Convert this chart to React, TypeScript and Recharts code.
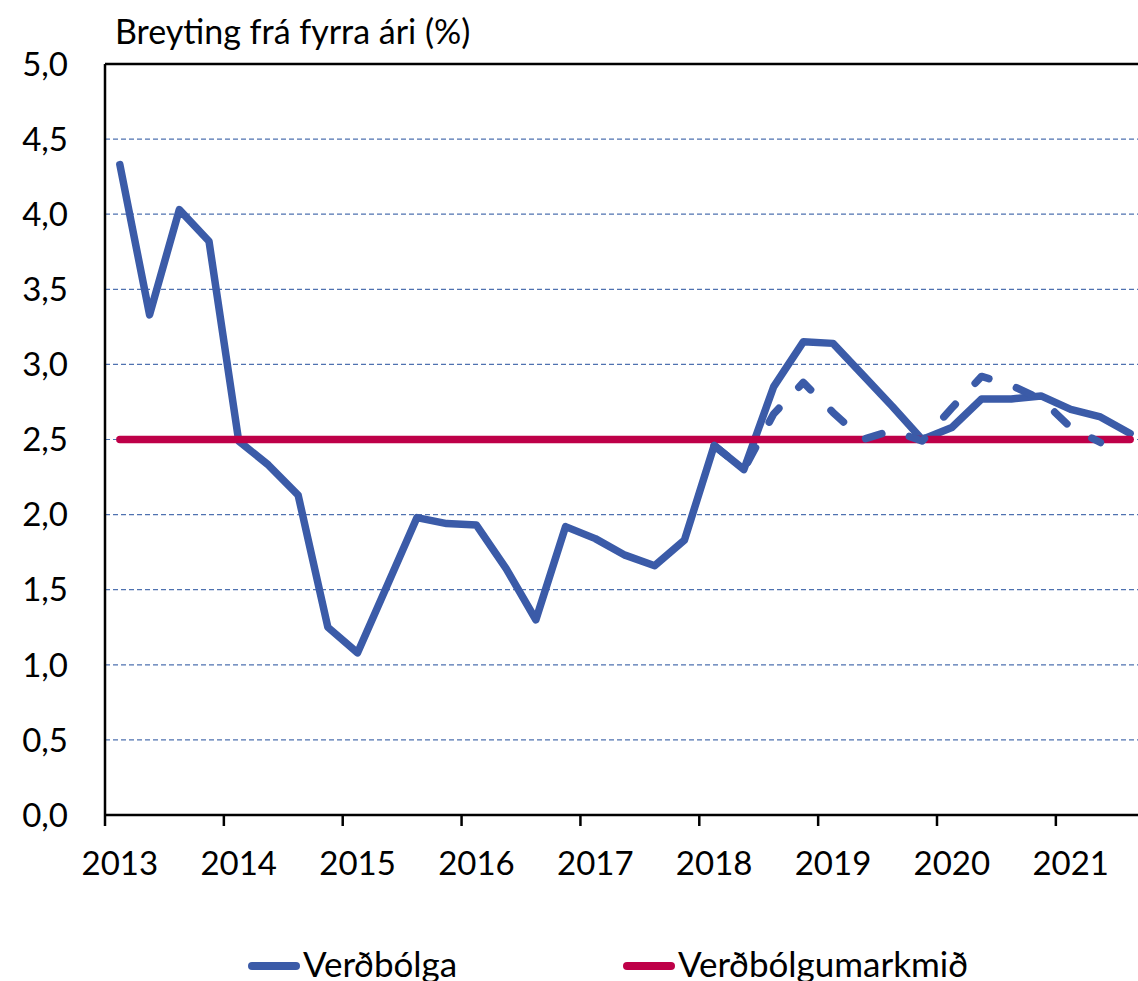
import {
  LineChart,
  Line,
  XAxis,
  YAxis,
  CartesianGrid,
  ReferenceLine,
  Legend,
} from 'recharts';

const quarters = [
  '2013Q1', '2013Q2', '2013Q3', '2013Q4',
  '2014Q1', '2014Q2', '2014Q3', '2014Q4',
  '2015Q1', '2015Q2', '2015Q3', '2015Q4',
  '2016Q1', '2016Q2', '2016Q3', '2016Q4',
  '2017Q1', '2017Q2', '2017Q3', '2017Q4',
  '2018Q1', '2018Q2', '2018Q3', '2018Q4',
  '2019Q1', '2019Q2', '2019Q3', '2019Q4',
  '2020Q1', '2020Q2', '2020Q3', '2020Q4',
  '2021Q1', '2021Q2', '2021Q3',
];

// Verðbólga (%)
const inflation = [
  4.33, 3.33, 4.03, 3.82,
  2.49, 2.33, 2.13, 1.25,
  1.08, 1.53, 1.98, 1.94,
  1.93, 1.64, 1.30, 1.92,
  1.84, 1.73, 1.66, 1.83,
  2.46, 2.30, 2.85, 3.15,
  3.14, 2.93, 2.72, 2.50,
  2.58, 2.77, 2.77, 2.79,
  2.70, 2.65, 2.54,
];

// Verðbólgumarkmið (%)
const target = [
  2.5, 2.5, 2.5, 2.5, 2.5, 2.5, 2.5, 2.5, 2.5, 2.5,
  2.5, 2.5, 2.5, 2.5, 2.5, 2.5, 2.5, 2.5, 2.5, 2.5,
  2.5, 2.5, 2.5, 2.5, 2.5, 2.5, 2.5, 2.5, 2.5, 2.5,
  2.5, 2.5, 2.5, 2.5, 2.5,
];

// eldri spá (dashed)
const forecast: (number | null)[] = [
  null, null, null, null,
  null, null, null, null,
  null, null, null, null,
  null, null, null, null,
  null, null, null, null,
  2.46, 2.30, 2.67, 2.88,
  2.68, 2.50, 2.56, 2.49,
  2.71, 2.92, 2.86, 2.77,
  2.58, 2.48, null,
];

const yTicks = [0, 0.5, 1, 1.5, 2, 2.5, 3, 3.5, 4, 4.5, 5];

const data = quarters.map((q, i) => ({
  q,
  inflation: inflation[i],
  target: target[i],
  forecast: forecast[i],
}));

const BLUE = '#3b5ba8';
const RED = '#be0048';
const FONT = 'Lato, "Open Sans", sans-serif';

const CHART_W = 1145;
const CHART_H = 981;
const AXIS_W = 105;
const STEP = (CHART_W - AXIS_W) / quarters.length;

function YearTick(props: any) {
  const { x, y, payload } = props;
  const label = String(payload.value);
  if (!label.endsWith('Q1')) return <g />;
  return (
    <g>
      <line
        x1={x - STEP / 2}
        x2={x - STEP / 2}
        y1={y}
        y2={y + 11}
        stroke="#000"
        strokeWidth={2.5}
      />
      <text
        x={x}
        y={y + 60}
        textAnchor="middle"
        fill="#000"
        fontSize={33}
        fontFamily={FONT}
      >
        {label.slice(0, 4)}
      </text>
    </g>
  );
}

const legendLeft = [248, 623];

function LegendContent(props: any) {
  const items = (props.payload || []).filter(
    (p: any) => p.type !== 'none'
  );
  return (
    <svg width={1138} height={40} style={{ display: 'block' }}>
      {items.map((item: any, i: number) => (
        <g key={item.value}>
          <line
            x1={legendLeft[i] + 4}
            x2={legendLeft[i] + 48}
            y1={21}
            y2={21}
            stroke={item.color}
            strokeWidth={8}
            strokeLinecap="round"
          />
          <text
            x={legendLeft[i] + 55}
            y={32}
            fontSize={35}
            fontFamily={FONT}
            fill="#000"
          >
            {item.value}
          </text>
        </g>
      ))}
    </svg>
  );
}

export default function App() {
  return (
    <div
      style={{
        position: 'absolute',
        left: 0,
        top: 0,
        width: 1138,
        height: 981,
        overflow: 'hidden',
        background: '#fff',
      }}
    >
      <LineChart
        width={CHART_W}
        height={CHART_H}
        data={data}
        margin={{ top: 64, right: 0, bottom: 106, left: 0 }}
      >
        <CartesianGrid
          vertical={false}
          stroke="#4f72b0"
          strokeWidth={1.2}
          strokeDasharray="5 3"
        />
        <XAxis
          dataKey="q"
          interval={0}
          height={60}
          padding={{ left: STEP / 2, right: STEP / 2 }}
          axisLine={{ stroke: '#000', strokeWidth: 2.5 }}
          tickLine={false}
          tickSize={0}
          tickMargin={0}
          tick={<YearTick />}
        />
        <YAxis
          width={AXIS_W}
          domain={[0, 5]}
          ticks={yTicks}
          interval={0}
          axisLine={{ stroke: '#000', strokeWidth: 2.5 }}
          tickLine={false}
          tickSize={0}
          tickMargin={37}
          tickFormatter={(v: number) => v.toFixed(1).replace('.', ',')}
          tick={{ fill: '#000', fontSize: 33, fontFamily: FONT }}
        />
        <ReferenceLine y={5} stroke="#000" strokeWidth={2.5} />
        <Line
          dataKey="inflation"
          name="Verðbólga"
          stroke={BLUE}
          strokeWidth={7.5}
          strokeLinejoin="round"
          strokeLinecap="round"
          dot={false}
          activeDot={false}
          isAnimationActive={false}
        />
        <Line
          dataKey="target"
          name="Verðbólgumarkmið"
          stroke={RED}
          strokeWidth={7.5}
          strokeLinecap="round"
          dot={false}
          activeDot={false}
          isAnimationActive={false}
        />
        <Line
          dataKey="forecast"
          name="Spá"
          legendType="none"
          stroke={BLUE}
          strokeWidth={7.5}
          strokeDasharray="17 29"
          strokeLinecap="round"
          strokeLinejoin="round"
          dot={false}
          activeDot={false}
          isAnimationActive={false}
        />
        <Legend
          layout="horizontal"
          verticalAlign="middle"
          align="center"
          content={<LegendContent />}
          wrapperStyle={{ top: 945, left: 0, width: 1138, height: 40 }}
        />
      </LineChart>
      <svg
        width={600}
        height={60}
        style={{ position: 'absolute', left: 0, top: 0 }}
      >
        <text x={115} y={44} fontSize={34} fontFamily={FONT} fill="#000">
          Breyting frá fyrra ári (%)
        </text>
      </svg>
    </div>
  );
}
